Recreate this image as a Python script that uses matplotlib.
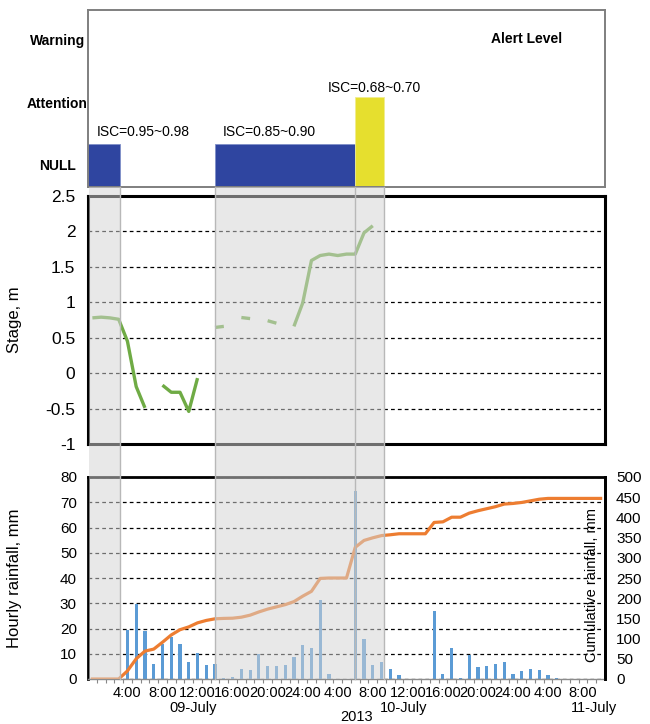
import numpy as np
import matplotlib
matplotlib.use("Agg")
import matplotlib.pyplot as plt
from matplotlib.patches import Rectangle
from matplotlib.lines import Line2D
from matplotlib.transforms import blended_transform_factory

plt.rcParams['font.family'] = ['Liberation Sans', 'DejaVu Sans']

nan = np.nan

# hourly time steps, hour 0 = 00:00 on 09-July-2013
hours = np.arange(59)

hourly_rain = [0, 0, 0, 0, 19.4, 29.7, 19.0, 5.9, 14.0, 16.6,
               13.8, 6.8, 10.3, 5.4, 5.8, 0.3, 0.9, 3.9, 3.6, 9.8,
               5.2, 5.2, 5.4, 8.6, 13.4, 12.3, 31.3, 2.0, 0, 0,
               74.6, 15.9, 5.4, 6.6, 4.0, 1.6, 0, 0, 0, 27.0,
               2.0, 12.4, 0.3, 9.6, 4.6, 5.2, 5.9, 6.6, 2.0, 3.2,
               4.0, 3.7, 1.6, 0.3, 0, 0, 0, 0, 0]

cumulative_rain = [0, 0, 0, 0, 20, 50, 69, 74, 91, 109,
                   122, 129, 139, 145, 149, 150, 150.5, 153, 158, 166,
                   173, 178.5, 184, 191.5, 205, 217, 249, 250, 250, 250,
                   326, 343, 349.5, 355, 357, 359.5, 359.5, 359.5, 359.5, 387.5,
                   389, 400.5, 400.5, 410.5, 416.5, 421.5, 426.5, 433, 434.5, 437,
                   441, 445, 447, 447, 447, 447, 447, 447, 447]

stage = [0.78, 0.79, 0.78, 0.76, 0.45, -0.19, -0.49, nan, -0.17, -0.27,
         -0.27, -0.54, -0.07, nan, 0.645, 0.66, nan, 0.785, 0.77, nan,
         0.74, 0.705, nan, 0.66, 0.99, 1.59, 1.66, 1.68, 1.66, 1.68,
         1.68, 1.98, 2.08, nan, nan, nan, nan, nan, nan, nan,
         nan, nan, nan, nan, nan, nan, nan, nan, nan, nan,
         nan, nan, nan, nan, nan, nan, nan, nan, nan]

alert_levels = ["NULL", "Attention", "Warning"]
alert_periods = [(-0.45, 3.1), (13.95, 29.95), (29.95, 33.25)]
alert_values = [1.33, 1.33, 2.08]
alert_colors = ["#2f45a0", "#2f45a0", "#e6df2e"]
isc_labels = ["ISC=0.95~0.98", "ISC=0.85~0.90", "ISC=0.68~0.70"]
isc_label_pos = [(0.5, 1.52), (14.9, 1.52), (26.85, 2.23)]

shaded_periods = [(-0.35, 3.1), (13.95, 33.25)]
period_edges = [3.1, 13.95, 29.95, 33.25]

xtick_hours = list(range(4, 57, 4))
xtick_labels = ["4:00", "8:00", "12:00", "16:00", "20:00", "24:00",
                "4:00", "8:00", "12:00", "16:00", "20:00", "24:00",
                "4:00", "8:00"]
date_labels = ["09-July", "10-July", "11-July"]
date_pos = [11.5, 35.5, 57.3]
year_label = "2013"
year_pos = 30.2

W, H = 650, 724
fig = plt.figure(figsize=(W / 100, H / 100), dpi=100)


def axes_px(left, top, right, bottom):
    return fig.add_axes([left / W, 1 - bottom / H, (right - left) / W, (bottom - top) / H])


XLIM = (-0.5, 58.5)

# ---------------- alert level panel ----------------
ax_top = axes_px(88, 10, 605, 187)
y0 = 0.64
ax_top.set_xlim(*XLIM)
ax_top.set_ylim(y0, 3.48)
for (s, e), v, c in zip(alert_periods, alert_values, alert_colors):
    ax_top.bar(s, v - y0, width=e - s, bottom=y0, align='edge', color=c,
               edgecolor='#8090c8' if c != "#e6df2e" else '#f0ec90', linewidth=0.6)
for txt, (x, y) in zip(isc_labels, isc_label_pos):
    ax_top.text(x, y, txt, ha='left', va='center', fontsize=10)
ax_top.set_xticks([])
ax_top.set_yticks([1, 2, 3], alert_levels)
ax_top.tick_params(axis='y', length=0, pad=22)
for lab in ax_top.get_yticklabels():
    lab.set_ha('center')
    lab.set_fontweight('bold')
    lab.set_fontsize(10)
ax_top.text(0.849, 0.835, "Alert Level", transform=ax_top.transAxes,
            ha='center', va='center', fontsize=10, fontweight='bold')
for sp in ax_top.spines.values():
    sp.set_color('#7f7f7f')
    sp.set_linewidth(1.4)

# ---------------- stage panel ----------------
ax_mid = axes_px(88, 196, 605, 444)
ax_mid.set_xlim(*XLIM)
ax_mid.set_ylim(-1, 2.5)
ax_mid.plot(hours, stage, color='#6fab45', lw=2.4, solid_capstyle='butt')
ax_mid.set_xticks([])
yt = np.arange(-1, 2.51, 0.5)
ax_mid.set_yticks(yt, ["-1", "-0.5", "0", "0.5", "1", "1.5", "2", "2.5"])
ax_mid.tick_params(axis='y', length=0, pad=9, labelsize=12.5)
ax_mid.grid(axis='y', color='black', ls=(0, (3, 2.5)), lw=0.9)
ax_mid.set_ylabel("Stage, m", fontsize=12, labelpad=6)
ax_mid.yaxis.set_label_coords(-0.128, 0.5)
for sp in ax_mid.spines.values():
    sp.set_color('black')
    sp.set_linewidth(2.2)

# ---------------- rainfall panel ----------------
ax_bot = axes_px(88, 477, 605, 679)
ax_bot.set_xlim(*XLIM)
ax_bot.set_ylim(0, 80)
ax_bot.bar(hours, hourly_rain, width=0.36, color='#5b9bd5', zorder=2)
ax_bot.set_yticks(np.arange(0, 81, 10))
ax_bot.tick_params(axis='y', length=0, pad=8, labelsize=11)
ax_bot.grid(axis='y', color='black', ls=(0, (3, 2.5)), lw=0.9, zorder=1)
ax_bot.set_axisbelow(True)
ax_bot.set_xticks(xtick_hours, xtick_labels)
ax_bot.tick_params(axis='x', length=0, pad=5, labelsize=10.5)
ax_bot.set_xticks(hours[:-1] + 0.5, minor=True)
ax_bot.tick_params(axis='x', which='minor', length=3, width=0.8, color='#888888')
ax_bot.set_ylabel("Hourly rainfall, mm", fontsize=12)
ax_bot.yaxis.set_label_coords(-0.128, 0.5)

ax_r = ax_bot.twinx()
ax_r.set_xlim(*XLIM)
ax_r.set_ylim(0, 500)
ax_r.plot(hours, cumulative_rain, color='#ed7d31', lw=2.3, zorder=3)
ax_r.set_yticks(np.arange(0, 501, 50))
ax_r.tick_params(axis='y', length=0, pad=8, labelsize=11)
ax_r.text(0.975, 0.465, "Cumulative rainfall, mm", transform=ax_bot.transAxes,
          rotation=90, ha='center', va='center', fontsize=10.5)

for sp in ['left', 'top', 'right']:
    ax_bot.spines[sp].set_color('black')
    ax_bot.spines[sp].set_linewidth(2.0)
ax_bot.spines['bottom'].set_color('#8c8c8c')
ax_bot.spines['bottom'].set_linewidth(1.0)
for sp in ['left', 'top', 'bottom']:
    ax_r.spines[sp].set_visible(False)
ax_r.spines['right'].set_color('black')
ax_r.spines['right'].set_linewidth(2.0)

date_tr = blended_transform_factory(ax_bot.transData, ax_bot.transAxes)
for lab, x in zip(date_labels, date_pos):
    ax_bot.text(x, -0.145, lab, transform=date_tr, ha='center', va='center',
                fontsize=10.5, clip_on=False)
ax_bot.text(year_pos, -0.19, year_label, transform=date_tr, ha='center',
            va='center', fontsize=10.5, clip_on=False)

# ---------------- shaded periods across the stage and rainfall panels ----------------
span_tr = blended_transform_factory(ax_bot.transData, fig.transFigure)
y_lo, y_hi = 1 - 679 / H, 1 - 187 / H
for s, e in shaded_periods:
    fig.add_artist(Rectangle((s, y_lo), e - s, y_hi - y_lo, transform=span_tr,
                             facecolor=(0.83, 0.83, 0.83), alpha=0.52,
                             edgecolor='none', zorder=10))
for x in period_edges:
    fig.add_artist(Line2D([x, x], [y_lo, y_hi], transform=span_tr,
                          color='#b8b8b8', lw=1.0, zorder=11))

fig.savefig("out.png", dpi=100)
